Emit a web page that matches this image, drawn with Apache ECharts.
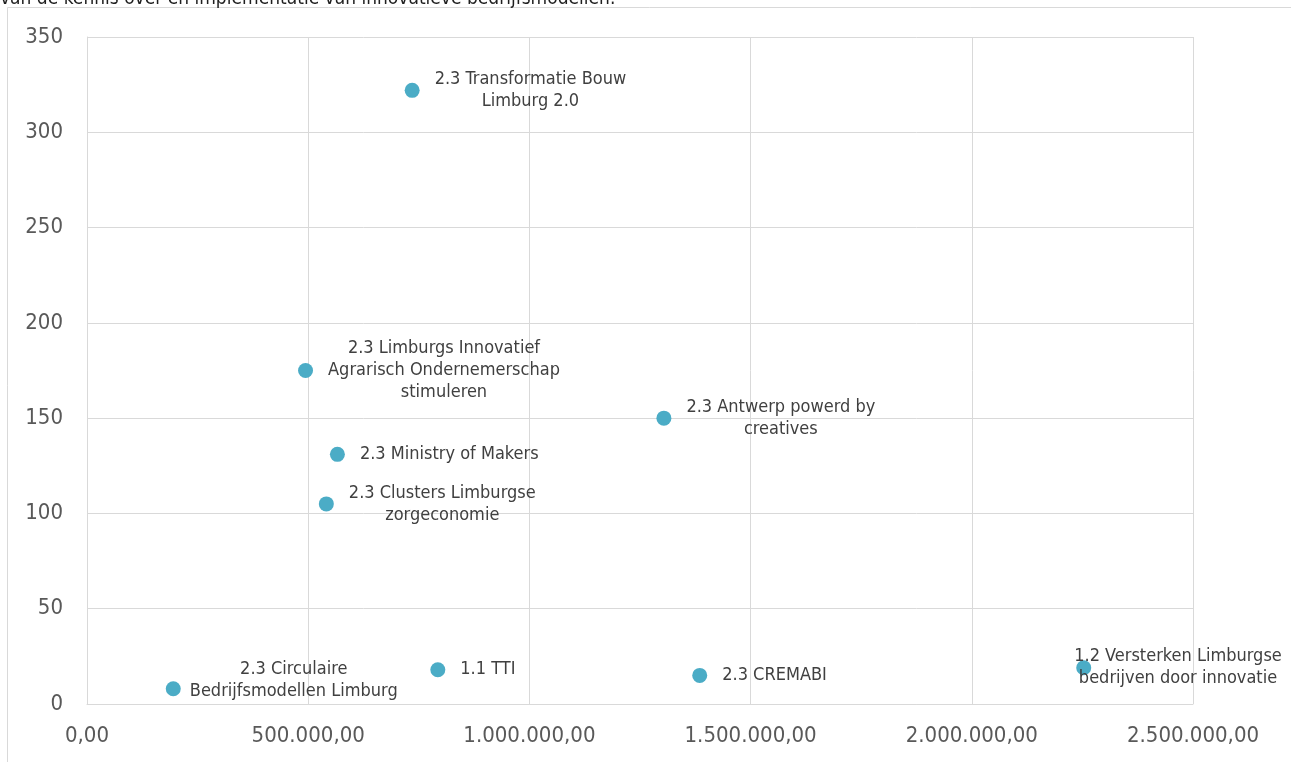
<!DOCTYPE html>
<html>
<head>
<meta charset="utf-8">
<title>Projecten: budget versus aantal</title>
<script src="https://cdn.jsdelivr.net/npm/echarts@6/dist/echarts.min.js"></script>
<style>
  html, body { margin: 0; padding: 0; background: #ffffff; }
  #chart { width: 1291px; height: 762px; }
</style>
</head>
<body>
<div id="chart"></div>
<script>
// Project names (line breaks as wrapped in the labels)
const projectNames = [
  '2.3 Transformatie Bouw\nLimburg 2.0',
  '2.3 Limburgs Innovatief\nAgrarisch Ondernemerschap\nstimuleren',
  '2.3 Antwerp powerd by\ncreatives',
  '2.3 Ministry of Makers',
  '2.3 Clusters Limburgse\nzorgeconomie',
  '2.3 Circulaire\nBedrijfsmodellen Limburg',
  '1.1 TTI',
  '2.3 CREMABI',
  '1.2 Versterken Limburgse\nbedrijven door innovatie'
];
// Budget per project (euro)
const budgets = [735000, 494000, 1304000, 566000, 541000, 195000, 793000, 1385000, 2253000];
// Count per project
const counts = [322, 175, 150, 131, 105, 8, 18, 15, 19];

// Axis ranges and tick steps
const xMin = 0, xMax = 2500000, xStep = 500000;
const yMin = 0, yMax = 350, yStep = 50;

const headerText = 'van de kennis over en implementatie van innovatieve bedrijfsmodellen.';

const FONT = '"DejaVu Sans Condensed", "DejaVu Sans", sans-serif';

// Dutch number notation: 1.500.000,00
function formatNl(v) {
  const fixed = Math.abs(v).toFixed(2).split('.');
  const intPart = fixed[0].replace(/\B(?=(\d{3})+(?!\d))/g, '.');
  return (v < 0 ? '-' : '') + intPart + ',' + fixed[1];
}

// Labels nudged to stay inside the plot area
const labelShift = {
  5: { dx: -6, dy: -8 },
  8: { dx: -32, dy: 0 }
};

const points = projectNames.map((name, i) => ({ name: name, value: [budgets[i], counts[i]] }));

const chart = echarts.init(document.getElementById('chart'), null, { renderer: 'canvas' });

chart.setOption({
  animation: false,
  backgroundColor: '#ffffff',
  textStyle: { fontFamily: FONT },
  graphic: [
    {
      type: 'rect',
      silent: true,
      shape: { x: 7.5, y: 7.5, width: 1400, height: 900 },
      style: { fill: 'none', stroke: '#d9d9d9', lineWidth: 1 }
    },
    {
      type: 'text',
      silent: true,
      x: 0,
      y: -1,
      style: {
        text: headerText,
        font: '19px ' + FONT,
        fill: '#1f1f1f',
        verticalAlign: 'middle'
      }
    }
  ],
  grid: { left: 87, right: 98, top: 37, bottom: 58, containLabel: false },
  xAxis: {
    type: 'value',
    min: xMin,
    max: xMax,
    interval: xStep,
    axisLine: { show: true, lineStyle: { color: '#d9d9d9', width: 1 } },
    axisTick: { show: false },
    splitLine: { show: true, lineStyle: { color: '#d9d9d9', width: 1 } },
    axisLabel: {
      color: '#595959',
      fontSize: 22,
      fontFamily: FONT,
      margin: 21,
      formatter: formatNl
    }
  },
  yAxis: {
    type: 'value',
    min: yMin,
    max: yMax,
    interval: yStep,
    axisLine: { show: true, lineStyle: { color: '#d9d9d9', width: 1 } },
    axisTick: { show: false },
    splitLine: { show: true, lineStyle: { color: '#d9d9d9', width: 1 } },
    axisLabel: {
      color: '#595959',
      fontSize: 22,
      fontFamily: FONT,
      margin: 24
    }
  },
  series: [
    {
      type: 'scatter',
      symbol: 'circle',
      symbolSize: 15,
      itemStyle: { color: '#4bacc6', opacity: 1 },
      data: points,
      label: {
        show: true,
        position: 'right',
        distance: 15,
        color: '#404040',
        fontSize: 18,
        fontFamily: FONT,
        lineHeight: 22,
        formatter: function (p) {
          return p.name.split('\n').map(function (l) { return '{c|' + l + '}'; }).join('\n');
        },
        rich: {
          c: { align: 'center', fontSize: 18, lineHeight: 22, color: '#404040', fontFamily: FONT }
        }
      },
      labelLayout: function (params) {
        const s = labelShift[params.dataIndex];
        return s ? { dx: s.dx, dy: s.dy, hideOverlap: false } : { hideOverlap: false };
      }
    }
  ]
});
</script>
</body>
</html>
